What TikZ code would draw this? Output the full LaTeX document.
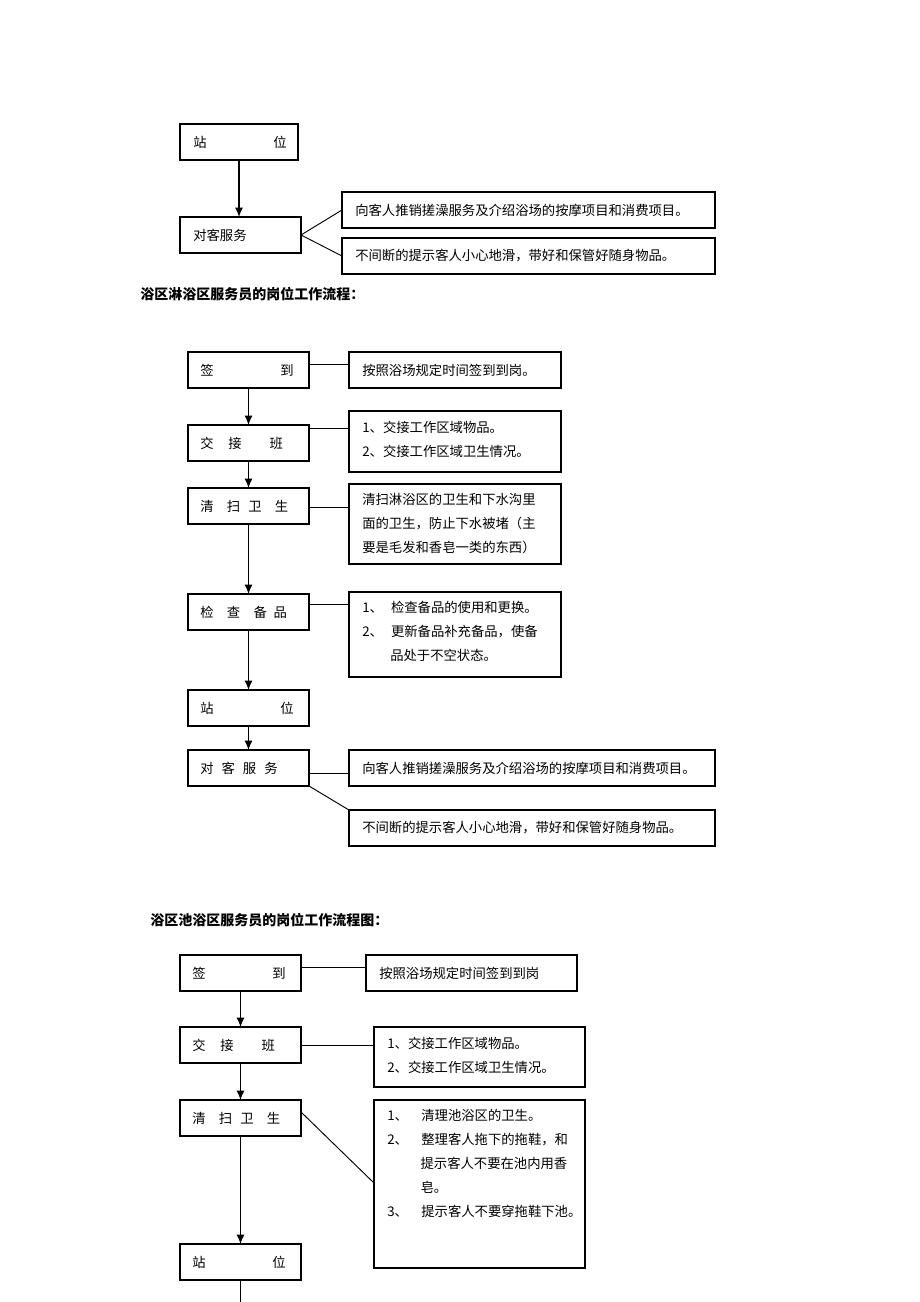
\documentclass[tikz,border=0pt]{standalone}
\usepackage{fontspec}
\setmainfont{Noto Sans CJK SC}
\usetikzlibrary{arrows.meta}
\begin{document}
\begin{tikzpicture}[x=0.75pt,y=-0.75pt,
 box/.style={draw,line width=0.8pt,inner sep=0,outer sep=0},
 t/.style={anchor=west,inner sep=0,font=\fontsize{10}{18}\selectfont,align=left},
 ln/.style={line width=0.7pt},
 ar/.style={line width=1pt,-{Latex[length=7pt,width=6pt]}}]
\useasboundingbox (0,0) rectangle (920,1302);
\newcommand{\bx}[5]{\node[box,minimum width={(#4-#2)*0.75pt},minimum height={(#5-#3)*0.75pt}] (#1) at ({(#2+#4)/2},{(#3+#5)/2}) {};}
% section 1
\bx{a1}{180}{124}{298}{160}\bx{b1}{180}{217}{301}{253}
\bx{r1a}{342}{192}{715}{228}\bx{r1b}{342}{238}{715}{274}
\node[t] (a1t) at (193,142) {站\hspace{5em}位};
\node[t] (b1t) at (193,235) {对客服务};
\node[t] (r1at) at (355,210) {向客人推销搓澡服务及介绍浴场的按摩项目和消费项目。};
\node[t] (r1bt) at (355,256) {不间断的提示客人小心地滑，带好和保管好随身物品。};
\draw[ar] (a1.south) -- (a1.south|-b1.north);
\draw[ln] (b1.east) -- (r1a.west);
\draw[ln] (b1.east) -- (r1b.west);
\node[t,font=\fontsize{10.5}{12}\selectfont\bfseries] (h1) at (140,294) {浴区淋浴区服务员的岗位工作流程：};
% section 2
\bx{c1}{188}{352}{309}{388}\bx{c2}{188}{425}{309}{461}\bx{c3}{188}{488}{309}{524}
\bx{c4}{188}{594}{309}{630}\bx{c5}{188}{690}{309}{726}\bx{c6}{188}{750}{309}{786}
\bx{d1}{349}{352}{561}{388}\bx{d2}{349}{411}{561}{472}\bx{d3}{349}{484}{561}{564}
\bx{d4}{349}{592}{561}{677}\bx{d5}{349}{750}{715}{786}\bx{d6}{349}{810}{715}{846}
\node[t] (c1t) at (200,370) {签\hspace{5em}到};
\node[t] (c2t) at (200,443) {交\hspace{1.1em}接\hspace{2.1em}班};
\node[t] (c3t) at (200,506) {清\hspace{1em}扫\hspace{0.6em}卫\hspace{1em}生};
\node[t] (c4t) at (200,612) {检\hspace{1em}查\hspace{1em}备\hspace{0.5em}品};
\node[t] (c5t) at (200,708) {站\hspace{5em}位};
\node[t] (c6t) at (200,768) {对\hspace{0.6em}客\hspace{0.6em}服\hspace{0.6em}务};
\node[t] (d1t) at (362,370) {按照浴场规定时间签到到岗。};
\node[t,anchor=north west] (d2t) at (362,421) {1、交接工作区域物品。\\2、交接工作区域卫生情况。};
\node[t,anchor=north west] (d3t) at (362,493) {清扫淋浴区的卫生和下水沟里\\面的卫生，防止下水被堵（主\\要是毛发和香皂一类的东西）};
\node[t,anchor=north west] (d4t) at (362,601) {1、\hspace{0.6em}检查备品的使用和更换。\\2、\hspace{0.6em}更新备品补充备品，使备\\\hspace{2.1em}品处于不空状态。};
\node[t] (d5t) at (362,768) {向客人推销搓澡服务及介绍浴场的按摩项目和消费项目。};
\node[t] (d6t) at (362,828) {不间断的提示客人小心地滑，带好和保管好随身物品。};
\draw[ln] (c1.east|-0,364) -- (d1.west|-0,364);
\draw[ln] (c2.east|-0,428) -- (d2.west|-0,428);
\draw[ln] (c3.east|-0,507) -- (d3.west|-0,507);
\draw[ln] (c4.east|-0,604) -- (d4.west|-0,604);
\draw[ln] (c6.east|-0,773) -- (d5.west|-0,773);
\draw[ln] (c6.south east) -- (d6.north west);
\draw[ar] (c1.south) -- (c2.north);
\draw[ar] (c2.south) -- (c3.north);
\draw[ar] (c3.south) -- (c4.north);
\draw[ar] (c4.south) -- (c5.north);
\draw[ar] (c5.south) -- (c6.north);
% section 3
\node[t,font=\fontsize{10.5}{12}\selectfont\bfseries] (h2) at (150,920) {浴区池浴区服务员的岗位工作流程图：};
\bx{e1}{180}{955}{301}{991}\bx{e2}{180}{1027}{301}{1063}\bx{e3}{180}{1100}{301}{1136}\bx{e4}{180}{1244}{301}{1280}
\bx{f1}{366}{955}{577}{991}\bx{f2}{374}{1027}{585}{1087}\bx{f3}{374}{1100}{585}{1268}
\node[t] (e1t) at (192,973) {签\hspace{5em}到};
\node[t] (e2t) at (192,1045) {交\hspace{1.1em}接\hspace{2.1em}班};
\node[t] (e3t) at (192,1118) {清\hspace{1em}扫\hspace{0.6em}卫\hspace{1em}生};
\node[t] (e4t) at (192,1262) {站\hspace{5em}位};
\node[t] (f1t) at (379,973) {按照浴场规定时间签到到岗};
\node[t,anchor=north west] (f2t) at (387,1037) {1、交接工作区域物品。\\2、交接工作区域卫生情况。};
\node[t,anchor=north west] (f3t) at (387,1109) {1、\hspace{1em}清理池浴区的卫生。\\2、\hspace{1em}整理客人拖下的拖鞋，和\\\hspace{2.5em}提示客人不要在池内用香\\\hspace{2.5em}皂。\\3、\hspace{1em}提示客人不要穿拖鞋下池。};
\draw[ln] (e1.east|-0,967) -- (f1.west|-0,967);
\draw[ln] (e2.east|-0,1045) -- (f2.west|-0,1045);
\coordinate (g) at (374,1183);
\draw[ln] (e3.east|-0,1112) -- (g);
\draw[ar] (e1.south) -- (e2.north);
\draw[ar] (e2.south) -- (e3.north);
\draw[ar] (e3.south) -- (e4.north);
\coordinate (bot) at (240.5,1302);
\draw[line width=1pt] (e4.south) -- (bot);
\end{tikzpicture}
\end{document}
